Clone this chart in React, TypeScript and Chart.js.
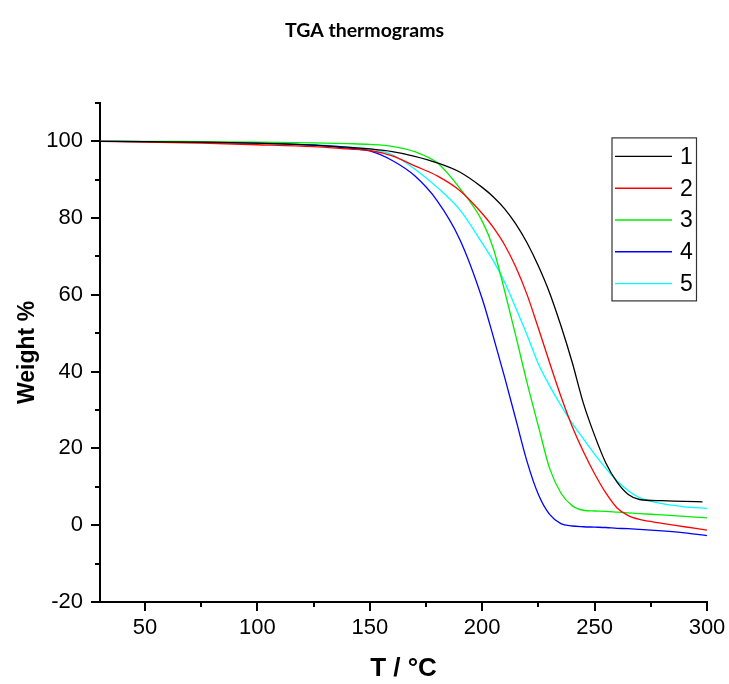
import React, { useEffect, useRef } from "react";
import { Chart, registerables } from "chart.js";

Chart.register(...registerables);

// Temperature grid (°C)
const temps = [30, 50, 75, 100, 125, 140, 150, 160, 170, 180, 190, 200, 205, 210, 215, 220, 225, 230, 235, 240, 245, 250, 255, 260, 265, 270, 280, 290, 300];
const temps1 = [30, 50, 75, 100, 125, 140, 150, 160, 170, 180, 190, 200, 205, 210, 215, 220, 225, 230, 235, 240, 245, 250, 255, 260, 265, 270, 280, 290, 298];

// Weight % series
const weight1 = [100, 99.9, 99.8, 99.5, 99.0, 98.5, 98.0, 97.3, 96.1, 94.4, 92.0, 88.0, 85.5, 82.4, 78.4, 73.5, 67.5, 60.5, 52.0, 42.5, 31.8, 23.4, 16.2, 11.2, 8.0, 6.7, 6.4, 6.2, 6.1];
const weight2 = [100, 99.8, 99.5, 99.1, 98.6, 98.0, 97.6, 96.2, 93.6, 91.0, 87.2, 81.2, 77.5, 73.0, 67.2, 60.0, 51.3, 42.3, 33.6, 25.8, 19.2, 13.4, 8.4, 4.5, 2.5, 1.5, 0.5, -0.4, -1.3];
const weight3 = [100, 100, 99.9, 99.8, 99.6, 99.4, 99.2, 98.7, 97.3, 94.4, 87.8, 79.2, 72.0, 61.0, 49.2, 37.0, 25.8, 14.8, 8.4, 5.1, 3.9, 3.7, 3.6, 3.4, 3.2, 3.0, 2.7, 2.3, 1.9];
const weight4 = [100, 99.9, 99.8, 99.5, 99.0, 98.2, 97.5, 95.0, 91.0, 84.5, 74.5, 59.0, 49.0, 38.5, 27.5, 16.5, 8.0, 2.8, 0.4, -0.2, -0.4, -0.5, -0.6, -0.8, -0.9, -1.1, -1.5, -2.0, -2.7];
const weight5 = [100, 99.9, 99.8, 99.5, 99.1, 98.5, 98.0, 96.5, 92.8, 88.0, 82.2, 73.5, 68.8, 63.3, 56.5, 49.5, 42.0, 36.3, 31.2, 26.6, 22.5, 18.5, 14.8, 11.5, 9.0, 7.2, 5.6, 4.8, 4.4];

const seriesLabels = ["1", "2", "3", "4", "5"];
const seriesColors = ["#000000", "#ff0000", "#00ee00", "#0000ff", "#00ffff"];

// Tick values
const xMajor = [50, 100, 150, 200, 250, 300];
const xMinor = [75, 125, 175, 225, 275];
const yMajor = [-20, 0, 20, 40, 60, 80, 100];
const yMinor = [-10, 10, 30, 50, 70, 90, 110];

const FONT = "'Liberation Sans', Arial, sans-serif";

const axisTicksPlugin = {
  id: "axisTicks",
  afterDraw(chart: any) {
    const { ctx, scales, chartArea } = chart;
    const x = scales.x;
    const y = scales.y;
    ctx.save();
    ctx.strokeStyle = "#000";
    ctx.lineWidth = 2;
    const b = chartArea.bottom;
    const l = chartArea.left;
    const seg = (x1: number, y1: number, x2: number, y2: number) => {
      ctx.beginPath();
      ctx.moveTo(x1, y1);
      ctx.lineTo(x2, y2);
      ctx.stroke();
    };
    xMajor.forEach((v) => {
      const p = Math.round(x.getPixelForValue(v));
      seg(p, b, p, b + 9);
    });
    xMinor.forEach((v) => {
      const p = Math.round(x.getPixelForValue(v));
      seg(p, b, p, b + 5);
    });
    yMajor.forEach((v) => {
      const p = Math.round(y.getPixelForValue(v));
      seg(l, p, l - 9, p);
    });
    yMinor.forEach((v) => {
      const p = Math.round(y.getPixelForValue(v));
      seg(l, p, l - 5, p);
    });
    ctx.restore();
  },
};

const boxLegendPlugin = {
  id: "boxLegend",
  afterDatasetsDraw(chart: any) {
    const { ctx, chartArea } = chart;
    const ds = chart.data.datasets;
    const boxRight = chartArea.right - 10.5;
    const boxLeft = boxRight - 84.5;
    const boxTop = chartArea.top + 35;
    const rowH = 31.8;
    const boxH = 163;
    ctx.save();
    ctx.fillStyle = "#fff";
    ctx.fillRect(boxLeft, boxTop, boxRight - boxLeft, boxH);
    ctx.strokeStyle = "#333";
    ctx.lineWidth = 1.2;
    ctx.strokeRect(boxLeft, boxTop, boxRight - boxLeft, boxH);
    ctx.font = `23px ${FONT}`;
    ctx.textBaseline = "middle";
    ctx.textAlign = "left";
    ds.forEach((d: any, i: number) => {
      const yy = boxTop + 18.5 + i * rowH;
      ctx.strokeStyle = d.borderColor;
      ctx.lineWidth = 1.4;
      ctx.beginPath();
      ctx.moveTo(boxLeft + 3, yy);
      ctx.lineTo(boxLeft + 60, yy);
      ctx.stroke();
      ctx.fillStyle = "#000";
      ctx.fillText(d.label, boxLeft + 68, yy + 1);
    });
    ctx.restore();
  },
};

export default function App() {
  const canvasRef = useRef<HTMLCanvasElement | null>(null);

  useEffect(() => {
    const canvas = canvasRef.current;
    if (!canvas) return;
    const weights = [weight1, weight2, weight3, weight4, weight5];
    const tempSets = [temps1, temps, temps, temps, temps];
    const datasets = weights.map((w, i) => ({
      label: seriesLabels[i],
      data: w.map((v, j) => ({ x: tempSets[i][j], y: v })),
      borderColor: seriesColors[i],
      backgroundColor: seriesColors[i],
      borderWidth: 1.3,
      pointRadius: 0,
      fill: false,
      cubicInterpolationMode: "monotone" as const,
    }));

    const chart = new Chart(canvas, {
      type: "line",
      data: { datasets },
      options: {
        responsive: false,
        animation: false,
        devicePixelRatio: 1,
        layout: { padding: { left: 0, right: 0, top: 0, bottom: 0 } },
        plugins: {
          legend: { display: false },
          tooltip: { enabled: false },
          title: {
            display: true,
            text: "TGA thermograms",
            color: "#000",
            font: { family: "Lato, 'Liberation Sans', sans-serif", size: 19.5, weight: "bold" },
            padding: { top: 19, bottom: 60.5 },
          },
        },
        scales: {
          x: {
            type: "linear",
            min: 30,
            max: 300,
            grid: { display: false, drawTicks: false },
            border: { display: true, color: "#000", width: 2 },
            ticks: {
              color: "#000",
              font: { family: FONT, size: 22 },
              padding: 13,
              autoSkip: false,
              maxRotation: 0,
            },
            afterBuildTicks: (s: any) => {
              s.ticks = xMajor.map((v) => ({ value: v }));
            },
            afterFit: (s: any) => {
              s.height = 82;
              s.paddingLeft = 0;
              s.paddingRight = 22;
            },
            title: {
              display: true,
              text: "T / °C",
              color: "#000",
              font: { family: FONT, size: 26, weight: "bold" },
              padding: { top: 0, bottom: 0 },
            },
          },
          y: {
            type: "linear",
            min: -20,
            max: 110,
            grid: { display: false, drawTicks: false },
            border: { display: true, color: "#000", width: 2 },
            ticks: {
              color: "#000",
              font: { family: FONT, size: 22 },
              padding: 17,
              autoSkip: false,
            },
            afterBuildTicks: (s: any) => {
              s.ticks = yMajor.map((v) => ({ value: v }));
            },
            afterFit: (s: any) => {
              s.width = 100;
            },
            title: {
              display: true,
              text: "Weight %",
              color: "#000",
              font: { family: FONT, size: 23, weight: "bold" },
              padding: { top: 14, bottom: 0 },
            },
          },
        },
      },
      plugins: [axisTicksPlugin, boxLegendPlugin],
    });

    return () => {
      chart.destroy();
    };
  }, []);

  return (
    <div style={{ position: "fixed", left: 0, top: 0, width: 729, height: 684, background: "#fff" }}>
      <canvas ref={canvasRef} width={729} height={684} style={{ width: 729, height: 684, display: "block" }} />
    </div>
  );
}
